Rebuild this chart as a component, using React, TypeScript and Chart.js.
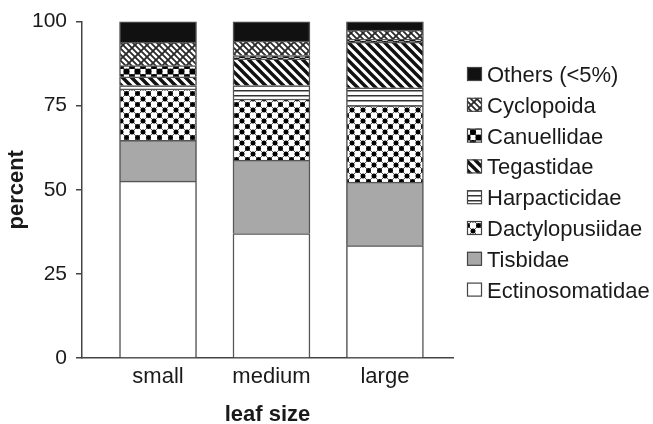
import React, { useEffect, useRef } from "react";
import { Chart, registerables } from "chart.js";

Chart.register(...registerables);

// Copepod family composition (percent) by leaf size
const leafSizes = ["small", "medium", "large"];
const ectinosomatidae = [52.6, 37.0, 33.4];
const tisbidae = [12.1, 21.8, 18.9];
const dactylopusiidae = [15.3, 18.2, 22.7];
const harpacticidae = [1.0, 4.0, 5.3];
const tegastidae = [2.6, 7.9, 13.6];
const canuellidae = [3.3, 1.0, 0.9];
const cyclopoida = [7.0, 4.3, 2.7];
const others = [6.1, 5.8, 2.5];
const yTicks = [0, 25, 50, 75, 100];

const FONT = "'Liberation Sans', Arial, Helvetica, sans-serif";
const INK = "#1a1a1a";
const LINE = "#444";

type Painter = (g: CanvasRenderingContext2D, s: number) => void;

function tile(ctx: CanvasRenderingContext2D, size: number, paint: Painter): CanvasPattern {
  const c = document.createElement("canvas");
  c.width = size;
  c.height = size;
  const g = c.getContext("2d")!;
  g.fillStyle = "#fff";
  g.fillRect(0, 0, size, size);
  paint(g, size);
  return ctx.createPattern(c, "repeat")!;
}

// dir 1 draws "\" lines, dir -1 draws "/" lines, n lines per tile width
function diagonals(g: CanvasRenderingContext2D, s: number, dir: number, n: number, w: number, color: string) {
  g.strokeStyle = color;
  g.lineWidth = w;
  g.beginPath();
  const step = s / n;
  for (let k = -2 * n - 1; k <= 3 * n + 1; k++) {
    const c = k * step;
    if (dir === 1) {
      g.moveTo(-2 * s, -2 * s + c);
      g.lineTo(3 * s, 3 * s + c);
    } else {
      g.moveTo(-2 * s, 2 * s + c);
      g.lineTo(3 * s, -3 * s + c);
    }
  }
  g.stroke();
}

function latticeDots(g: CanvasRenderingContext2D, s: number, r: number) {
  g.fillStyle = "#000";
  const pts = [
    [0, 0], [s, 0], [0, s], [s, s], [s / 2, s / 2],
  ];
  for (const [x, y] of pts) {
    g.beginPath();
    g.arc(x, y, r, 0, Math.PI * 2);
    g.fill();
  }
}

function buildFills(ctx: CanvasRenderingContext2D) {
  return {
    ect: "#ffffff",
    tis: "#a8a8a8",
    dact: tile(ctx, 11, (g, s) => {
      diagonals(g, s, 1, 1, 1, "#555");
      diagonals(g, s, -1, 1, 1, "#555");
      latticeDots(g, s, 2.5);
    }),
    harp: tile(ctx, 5, (g, s) => {
      g.fillStyle = "#333";
      g.fillRect(0, 0, s, 1.5);
    }),
    teg: tile(ctx, 9, (g, s) => {
      diagonals(g, s, 1, 1, 3.4, "#111");
    }),
    can: tile(ctx, 11, (g, s) => {
      diagonals(g, s, 1, 1, 1.4, "#333");
      diagonals(g, s, -1, 1, 1.4, "#333");
      latticeDots(g, s, 3.1);
    }),
    cyc: tile(ctx, 12, (g, s) => {
      diagonals(g, s, 1, 2, 1.8, "#2a2a2a");
      diagonals(g, s, -1, 1, 1.8, "#2a2a2a");
    }),
    oth: "#111111",
  };
}

// Legend drawn to the right of the plot, top entry = last dataset
const sideLegend = {
  id: "sideLegend",
  afterDraw(chart: Chart) {
    const { ctx } = chart;
    const sets = chart.data.datasets;
    const boxX = 467;
    const firstY = 75;
    const rowGap = 30.8;
    ctx.save();
    ctx.font = `22px ${FONT}`;
    ctx.textBaseline = "middle";
    ctx.textAlign = "left";
    for (let i = 0; i < sets.length; i++) {
      const ds: any = sets[sets.length - 1 - i];
      const y = firstY + i * rowGap;
      ctx.fillStyle = ds.backgroundColor;
      ctx.fillRect(boxX, y - 8, 15, 14);
      ctx.strokeStyle = LINE;
      ctx.lineWidth = 1.2;
      ctx.strokeRect(boxX + 0.5, y - 7.5, 14, 13);
      ctx.fillStyle = INK;
      ctx.fillText(ds.label, boxX + 20, y + 1);
    }
    ctx.restore();
  },
};

export default function App() {
  const ref = useRef<HTMLCanvasElement | null>(null);

  useEffect(() => {
    const canvas = ref.current!;
    const ctx = canvas.getContext("2d")!;
    const f = buildFills(ctx);

    const series: [string, number[], any][] = [
      ["Ectinosomatidae", ectinosomatidae, f.ect],
      ["Tisbidae", tisbidae, f.tis],
      ["Dactylopusiidae", dactylopusiidae, f.dact],
      ["Harpacticidae", harpacticidae, f.harp],
      ["Tegastidae", tegastidae, f.teg],
      ["Canuellidae", canuellidae, f.can],
      ["Cyclopoida", cyclopoida, f.cyc],
      ["Others (<5%)", others, f.oth],
    ];

    const chart = new Chart(canvas, {
      type: "bar",
      data: {
        datasets: series.map(([label, values, fill]) => ({
          label,
          data: values.map((v, i) => ({ x: i, y: v })),
          backgroundColor: fill,
          borderColor: "#555",
          borderWidth: 1.5,
          barThickness: 77,
        })),
      },
      options: {
        animation: false,
        responsive: false,
        devicePixelRatio: 1,
        layout: { padding: { left: 0, right: 200, top: 21, bottom: 0 } },
        plugins: {
          legend: { display: false },
          tooltip: { enabled: false },
        },
        scales: {
          x: {
            type: "linear",
            offset: false,
            stacked: true,
            min: -0.67,
            max: 2.6,
            afterBuildTicks: (s: any) => {
              s.ticks = leafSizes.map((_, i) => ({ value: i }));
            },
            afterFit: (s: any) => {
              s.height = 66;
            },
            grid: { display: false, drawTicks: false, offset: false },
            border: { display: true, color: LINE, width: 1.5 },
            ticks: {
              autoSkip: false,
              padding: 6,
              color: INK,
              font: { family: FONT, size: 22 },
              callback: (v: any) => leafSizes[v] ?? "",
            },
            title: {
              display: true,
              text: "leaf size",
              color: INK,
              font: { family: FONT, size: 22, weight: "bold", lineHeight: 1 },
              padding: { top: 4, bottom: -2 },
            },
          },
          y: {
            stacked: true,
            min: 0,
            max: 100,
            afterBuildTicks: (s: any) => {
              s.ticks = yTicks.map((v) => ({ value: v }));
            },
            afterFit: (s: any) => {
              s.width = 82;
            },
            grid: {
              display: true,
              drawOnChartArea: false,
              drawTicks: true,
              tickLength: 6,
              color: LINE,
              lineWidth: 1.5,
            },
            border: { display: true, color: LINE, width: 1.5 },
            ticks: {
              padding: 9,
              color: INK,
              font: { family: FONT, size: 21 },
            },
            title: {
              display: true,
              text: "percent",
              color: INK,
              font: { family: FONT, size: 22, weight: "bold" },
              padding: { top: 4, bottom: 4 },
            },
          },
        },
      } as any,
      plugins: [sideLegend],
    });

    return () => chart.destroy();
  }, []);

  return (
    <canvas
      ref={ref}
      width={653}
      height={424}
      style={{ position: "fixed", left: 0, top: 0, width: 653, height: 424 }}
    />
  );
}
